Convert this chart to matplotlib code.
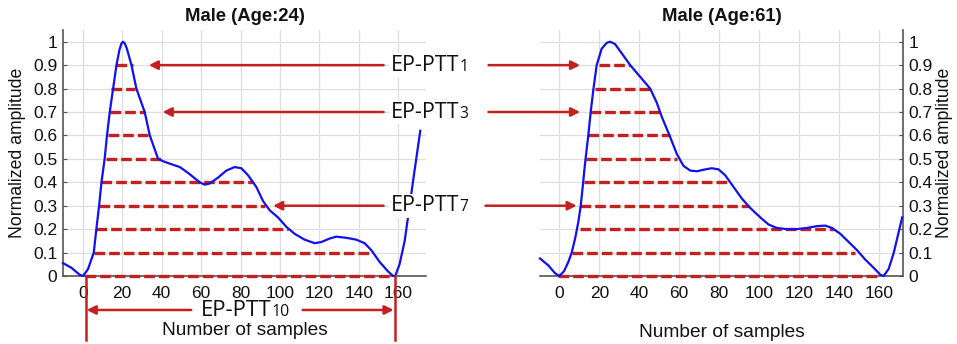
import matplotlib
matplotlib.use("Agg")
import matplotlib.pyplot as plt
from matplotlib.offsetbox import TextArea, HPacker, AnnotationBbox

# ---------------- data ----------------
titles = ["Male (Age:24)", "Male (Age:61)"]

young_x = [-10.0, -5.7, -1.5, 0.2, 2.7, 5.6, 6.9, 8.3, 9.5, 11.1, 12.3, 13.7, 15.4, 17.1, 18.6,
           19.6, 20.4, 21.3, 22.4, 24.7, 27.2, 31.4, 34.0, 38.2, 40.7, 44.0, 49.2, 53.4, 59.3,
           61.8, 64.4, 68.6, 72.8, 77.0, 80.4, 83.8, 88.0, 91.4, 94.8, 99.0, 103.2, 107.4,
           112.5, 117.6, 120.9, 125.2, 128.5, 133.6, 138.7, 142.9, 146.3, 150.5, 154.7, 157.3,
           158.4, 160.6, 163.2, 165.7, 168.2, 171.1]
young_y = [0.055, 0.035, 0.005, 0.0, 0.03, 0.1, 0.2, 0.3, 0.4, 0.5, 0.6, 0.7, 0.8, 0.9, 0.965,
           0.992, 1.0, 0.993, 0.97, 0.9, 0.8, 0.7, 0.6, 0.5, 0.49, 0.48, 0.465, 0.44, 0.40,
           0.39, 0.395, 0.42, 0.45, 0.465, 0.46, 0.43, 0.38, 0.32, 0.28, 0.25, 0.21, 0.18,
           0.155, 0.14, 0.145, 0.16, 0.168, 0.163, 0.155, 0.14, 0.11, 0.06, 0.02, 0.0,
           0.0, 0.05, 0.15, 0.3, 0.45, 0.62]

old_x = [-9.7, -5.5, -2.2, 0.0, 2.3, 4.5, 6.2, 7.9, 9.5, 10.7, 11.7, 12.5, 13.4, 14.5, 15.7,
         17.1, 18.7, 21.2, 23.7, 25.4, 27.9, 31.3, 35.5, 40.5, 45.5, 48.8, 51.3, 55.2, 58.9,
         62.2, 65.6, 68.9, 73.1, 76.4, 79.8, 83.1, 87.3, 91.5, 95.7, 100.7, 104.8, 109.0,
         114.0, 119.0, 124.0, 129.1, 133.3, 136.6, 140.8, 145.0, 149.2, 153.3, 157.5, 160.9,
         162.5, 165.0, 167.6, 170.1, 171.8]
old_y = [0.075, 0.045, 0.012, 0.0, 0.02, 0.06, 0.1, 0.16, 0.23, 0.3, 0.38, 0.45, 0.52, 0.6, 0.7,
         0.8, 0.9, 0.97, 0.995, 1.0, 0.99, 0.95, 0.9, 0.85, 0.8, 0.74, 0.68, 0.6, 0.52,
         0.47, 0.45, 0.447, 0.455, 0.46, 0.455, 0.43, 0.38, 0.33, 0.29, 0.25, 0.22, 0.205,
         0.2, 0.2, 0.205, 0.213, 0.215, 0.205, 0.18, 0.145, 0.11, 0.07, 0.035, 0.005,
         0.0, 0.03, 0.1, 0.19, 0.25]

levels = [0.0, 0.1, 0.2, 0.3, 0.4, 0.5, 0.6, 0.7, 0.8, 0.9]
young_start = [1.0, 5.6, 6.9, 8.3, 9.5, 11.7, 12.8, 13.7, 14.5, 17.1]
young_end = [156.4, 146.8, 104.0, 92.2, 86.3, 39.9, 33.1, 31.4, 26.4, 25.5]
old_start = [-0.5, 6.2, 10.4, 10.4, 12.5, 13.4, 14.5, 15.4, 17.9, 20.1]
old_end = [160.9, 148.3, 137.5, 94.8, 84.8, 58.9, 55.5, 50.5, 45.5, 35.5]

# EP-PTT annotations
ptt_subs = ["1", "3", "7"]
ptt_levels = [0.9, 0.7, 0.3]
ptt_tip_left = [33.5, 40.5, 96.5]
ptt_tip_right = [10.4, 10.4, 8.7]
ptt10_bounds = [1.5, 158.1]

xticks = [0, 20, 40, 60, 80, 100, 120, 140, 160]
yticks = [0.0, 0.1, 0.2, 0.3, 0.4, 0.5, 0.6, 0.7, 0.8, 0.9, 1.0]
ytick_labels = ["0", "0.1", "0.2", "0.3", "0.4", "0.5", "0.6", "0.7", "0.8", "0.9", "1"]

# ---------------- style ----------------
RED = "#c42020"
BLUE = "#1010f0"
GRID = "#dedede"
SPINE = "#555555"
FONT = "Liberation Sans"
LABFONT = "Open Sans"

plt.rcParams["font.family"] = [FONT, "DejaVu Sans"]

fig = plt.figure(figsize=(9.57, 3.44), dpi=100)
axL = fig.add_axes([63 / 957, 68 / 344, 363 / 957, 246 / 344])
axR = fig.add_axes([540 / 957, 68 / 344, 363 / 957, 246 / 344])


def style_axes(ax, xlim, side):
    ax.set_xlim(*xlim)
    ax.set_ylim(0, 1.05)
    ax.set_xticks(xticks)
    ax.set_xticklabels([str(t) for t in xticks])
    ax.set_yticks(yticks)
    ax.set_yticklabels(ytick_labels)
    ax.grid(True, color=GRID, lw=0.9)
    ax.set_axisbelow(True)
    for s in ["top", "left", "right"]:
        ax.spines[s].set_visible(False)
    ax.spines["bottom"].set_color(SPINE)
    ax.spines["bottom"].set_linewidth(1.2)
    ax.spines[side].set_visible(True)
    ax.spines[side].set_color(SPINE)
    ax.spines[side].set_linewidth(1.2)
    if side == "right":
        ax.yaxis.tick_right()
    ax.tick_params(direction="in", length=3, width=0.8, colors=SPINE,
                   labelcolor="#111111", labelsize=12.5, pad=4)
    ax.tick_params(axis="x", pad=7, length=0)


style_axes(axL, (-10, 174), "left")
style_axes(axR, (-9.7, 172.2), "right")

axL.text(-0.124, 0.5, "Normalized amplitude", transform=axL.transAxes, rotation=90,
         ha="center", va="center", fontsize=12.7, color="#111111")
axR.text(1.113, 0.5, "Normalized amplitude", transform=axR.transAxes, rotation=90,
         ha="center", va="center", fontsize=12.7, color="#111111")

for ax, t in zip([axL, axR], titles):
    ax.text(0.5, 1.053, t, transform=ax.transAxes, ha="center", va="center",
            fontsize=13.3, fontweight="bold", color="#111111")

axL.text(0.5, -0.22, "Number of samples", transform=axL.transAxes, ha="center",
         va="center", fontsize=13.8, color="#111111")
axR.text(0.5, -0.228, "Number of samples", transform=axR.transAxes, ha="center",
         va="center", fontsize=13.8, color="#111111")

# dashed level lines
for ax, st, en in [(axL, young_start, young_end), (axR, old_start, old_end)]:
    for lv, a, b in zip(levels, st, en):
        ax.plot([a, b], [lv, lv], color=RED, lw=2.4, ls=(0, (3.2, 1.2)), zorder=3,
                clip_on=False)

# curves
axL.plot(young_x, young_y, color=BLUE, lw=1.6, zorder=4, clip_on=False)
axR.plot(old_x, old_y, color=BLUE, lw=1.6, zorder=4, clip_on=False)

arrow_kw = dict(arrowstyle="-|>", color=RED, lw=1.8, mutation_scale=13,
                shrinkA=0, shrinkB=0)


def ptt_label(ax, x, y, sub, size=15.5, align=(0, 0.5)):
    main = TextArea("EP-PTT", textprops=dict(fontsize=size, family=LABFONT, color="#111111"))
    subt = TextArea(sub, textprops=dict(fontsize=size * 0.72, family=LABFONT, color="#111111"))
    box = HPacker(children=[main, subt], align="baseline", pad=0, sep=0.5)
    ab = AnnotationBbox(box, (x, y), xycoords="data", box_alignment=align,
                        frameon=True, pad=0.1, annotation_clip=False,
                        bboxprops=dict(facecolor="white", edgecolor="none"))
    ab.set_zorder(6)
    ax.add_artist(ab)


# EP-PTT 1/3/7 arrows and labels
for sub, lv, tl, tr in zip(ptt_subs, ptt_levels, ptt_tip_left, ptt_tip_right):
    axL.annotate("", xy=(tl, lv), xytext=(152.5, lv), arrowprops=arrow_kw,
                 annotation_clip=False, zorder=5)
    axR.annotate("", xy=(tr, lv), xytext=(-35.5 if lv > 0.5 else -37.0, lv),
                 arrowprops=arrow_kw, annotation_clip=False, zorder=5)
    ptt_label(axL, 156.0, lv, sub)

# EP-PTT10 span
for xb in ptt10_bounds:
    axL.plot([xb, xb], [0, -0.275], color=RED, lw=1.8, clip_on=False, zorder=5)
axL.annotate("", xy=(ptt10_bounds[0] + 0.5, -0.145), xytext=(55, -0.145),
             arrowprops=arrow_kw, annotation_clip=False)
axL.annotate("", xy=(ptt10_bounds[1] - 0.5, -0.145), xytext=(111.5, -0.145),
             arrowprops=arrow_kw, annotation_clip=False)
ptt_label(axL, 82.5, -0.148, "10", size=16, align=(0.5, 0.5))

fig.savefig("out.png", dpi=100)
